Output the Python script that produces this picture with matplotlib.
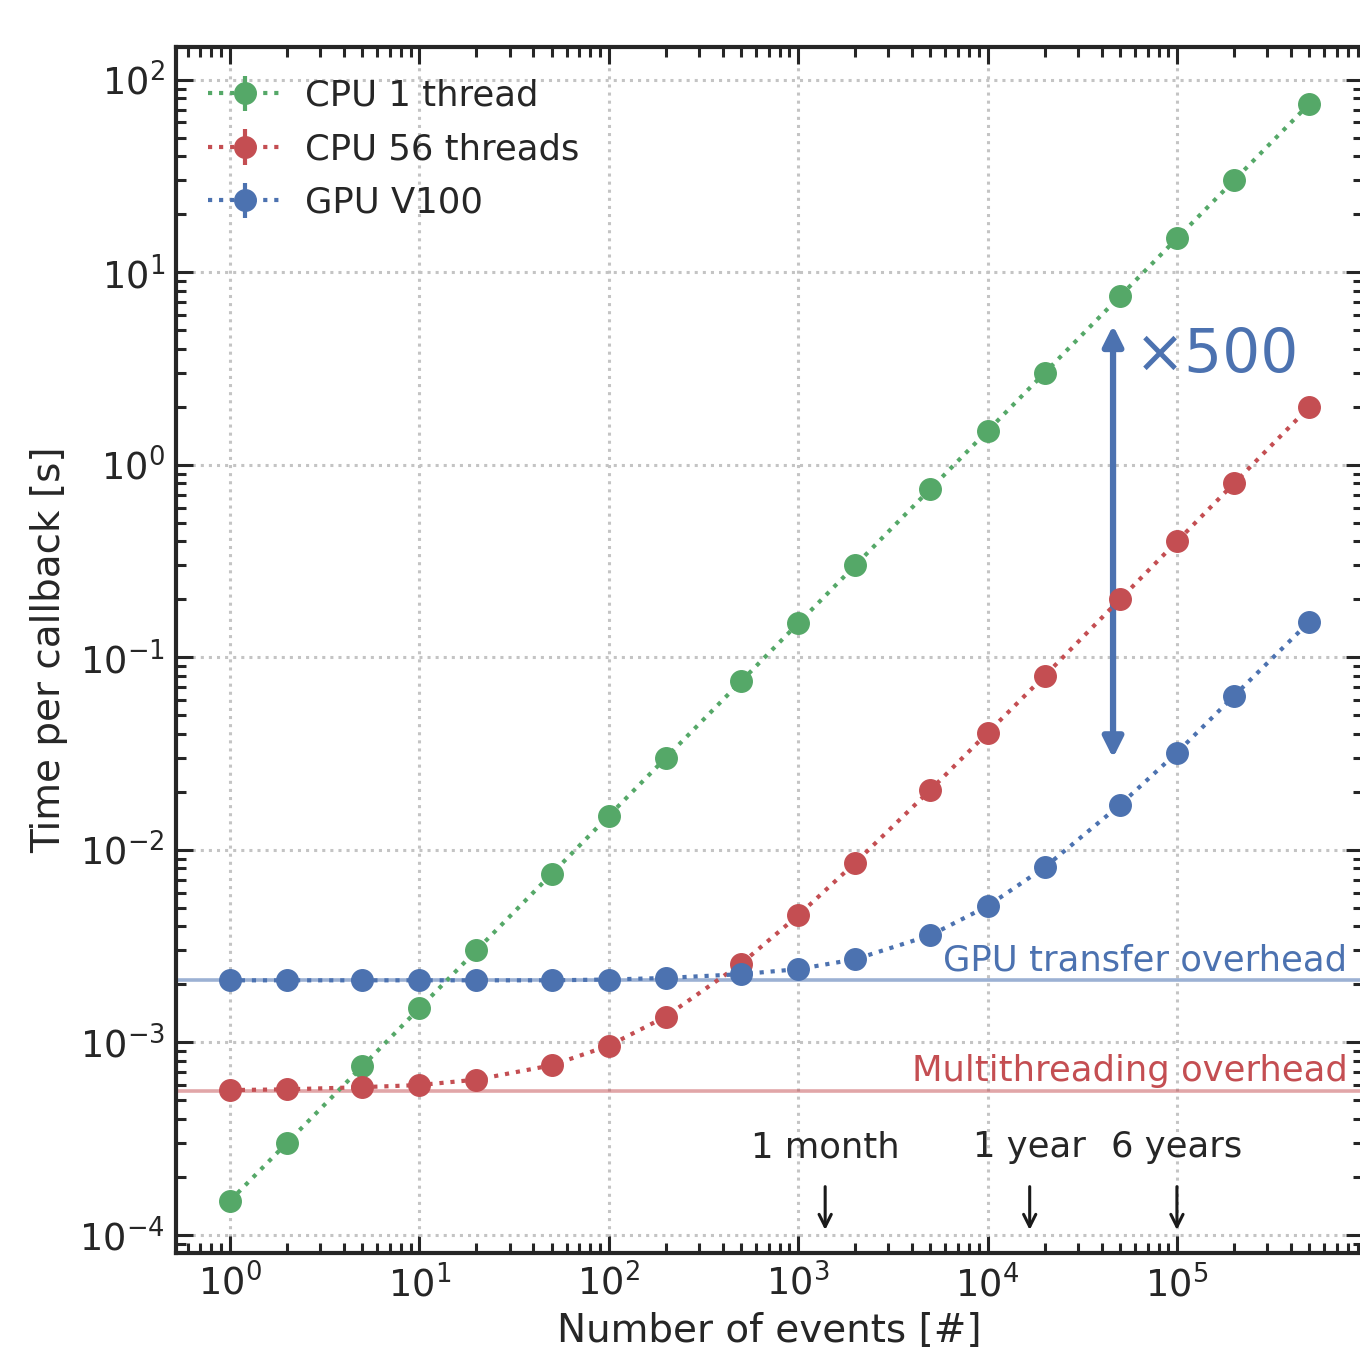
import numpy as np
import matplotlib
matplotlib.use("Agg")
import matplotlib.pyplot as plt

# ---- data ----
n_events = [1, 2, 5, 10, 20, 50, 100, 200, 500, 1e3, 2e3, 5e3, 1e4, 2e4, 5e4, 1e5, 2e5, 5e5]
cpu1 = [1.5e-4, 3e-4, 7.5e-4, 1.5e-3, 3e-3, 7.5e-3, 0.015, 0.03, 0.075, 0.15, 0.3, 0.75,
        1.5, 3.0, 7.5, 15, 30, 75]
cpu56 = [5.65e-4, 5.7e-4, 5.85e-4, 6.0e-4, 6.4e-4, 7.6e-4, 9.6e-4, 1.36e-3, 2.56e-3, 4.56e-3,
         8.56e-3, 0.0205, 0.0405, 0.080, 0.20, 0.40, 0.80, 2.0]
gpu = [2.1e-3, 2.1e-3, 2.1e-3, 2.1e-3, 2.1e-3, 2.1e-3, 2.12e-3, 2.16e-3, 2.26e-3, 2.4e-3,
       2.7e-3, 3.6e-3, 5.1e-3, 8.1e-3, 0.0171, 0.032, 0.063, 0.153]
labels = ["CPU 1 thread", "CPU 56 threads", "GPU V100"]
gpu_overhead = 2.1e-3
mt_overhead = 5.6e-4
speedup_label = "×500"
speedup_x = 4.6e4
speedup_range = [0.030, 5.3]
time_labels = ["1 month", "1 year", "6 years"]
time_events = [1.39e3, 1.67e4, 1.0e5]

green, red, blue = "#55a868", "#c44e52", "#4c72b0"
fs = 25.5
dark = '#262626'

plt.rcParams['font.family'] = ['DejaVu Sans']
fig = plt.figure(figsize=(13.6, 13.48), dpi=100)
ax = fig.add_axes([176/1360, 1-1253/1348, (1363-176)/1360, (1253-47)/1348])

for y, c, lab in zip([cpu1, cpu56, gpu], [green, red, blue], labels):
    ax.errorbar(n_events, y, yerr=np.zeros(len(y)), fmt='o', ls=':', color=c, lw=3,
                ms=15.5, elinewidth=3, capsize=0, label=lab, zorder=3)

ax.axhline(gpu_overhead, color=blue, alpha=0.55, lw=2.6, zorder=2)
ax.axhline(mt_overhead, color=red, alpha=0.5, lw=2.6, zorder=2)
ax.text(0.987, gpu_overhead * 1.04, "GPU transfer overhead", color=blue, fontsize=fs,
        ha='right', va='bottom', transform=ax.get_yaxis_transform())
ax.text(0.987, mt_overhead * 1.04, "Multithreading overhead", color=red, fontsize=fs,
        ha='right', va='bottom', transform=ax.get_yaxis_transform())

ax.annotate('', xy=(speedup_x, speedup_range[0]), xytext=(speedup_x, speedup_range[1]),
            arrowprops=dict(arrowstyle='<|-|>', color=blue, lw=4.5, mutation_scale=30,
                            shrinkA=0, shrinkB=0))
ax.text(6.0e4, 3.7, speedup_label, color=blue, fontsize=43, ha='left', va='center')

for lab, xe in zip(time_labels, time_events):
    ax.annotate('', xy=(xe, 1.06e-4), xytext=(xe, 1.78e-4),
                arrowprops=dict(arrowstyle='->', color='#1a1a1a', lw=2.2, mutation_scale=22,
                                shrinkA=0, shrinkB=0))
    ax.text(xe, 2.85e-4, lab, fontsize=fs, ha='center', va='center', color=dark)

ax.set_xscale('log')
ax.set_yscale('log')
ax.set_xlim(0.52, 9.6e5)
ax.set_ylim(8.05e-5, 148)
ax.grid(True, which='major', ls=':', color='#c4c4c4', lw=2.2)
for s in ax.spines.values():
    s.set_linewidth(3)
    s.set_color(dark)
ax.xaxis.set_minor_locator(matplotlib.ticker.LogLocator(base=10, subs=np.arange(2, 10), numticks=30))
ax.yaxis.set_minor_locator(matplotlib.ticker.LogLocator(base=10, subs=np.arange(2, 10), numticks=30))
ax.xaxis.set_major_locator(matplotlib.ticker.LogLocator(base=10, numticks=30))
ax.yaxis.set_major_locator(matplotlib.ticker.LogLocator(base=10, numticks=30))
ax.xaxis.set_minor_formatter(matplotlib.ticker.NullFormatter())
ax.yaxis.set_minor_formatter(matplotlib.ticker.NullFormatter())
ax.tick_params(which='both', direction='in', top=True, right=True, labelsize=26.5,
               colors=dark, pad=8)
ax.tick_params(which='major', length=12.5, width=2.2)
ax.tick_params(which='minor', length=7.5, width=2.2)

ax.set_xlabel("Number of events [#]", fontsize=28, color=dark, labelpad=6)
ax.set_ylabel("Time per callback [s]", fontsize=28, color=dark, labelpad=8)

leg = ax.legend(loc='upper left', frameon=False, fontsize=fs, handlelength=2.1,
                labelspacing=0.55, borderaxespad=0.5, handletextpad=0.65,
                bbox_to_anchor=(0.0, 1.0))
for t in leg.get_texts():
    t.set_color(dark)

fig.savefig("out.png", dpi=100)
